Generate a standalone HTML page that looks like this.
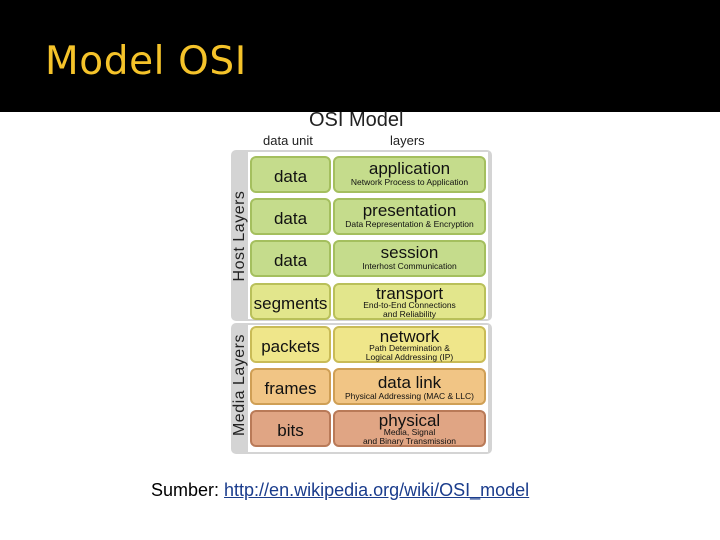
<!DOCTYPE html>
<html><head><style>
body{margin:0;width:720px;height:540px;background:#fff;position:relative;font-family:"Liberation Sans",sans-serif;overflow:hidden}
.hdr{position:absolute;left:0;top:0;width:720px;height:112px;background:#000}
.t{position:absolute;left:45px;top:39px;color:#f5c32a;font-size:39px;letter-spacing:0.6px;font-family:"DejaVu Sans","Liberation Sans",sans-serif}
.a{position:absolute}
.panel{position:absolute;left:231px;width:261px;background:#d4d4d4;border-radius:5px}
.inner{position:absolute;left:248px;width:240px;background:#fff}
.box{position:absolute;border-radius:6px;box-sizing:border-box;text-align:center;color:#111}
.u{left:250px;width:81px;height:37px;font-size:17px;line-height:37px}
.l{left:333px;width:153px;height:37px;font-size:17px;line-height:17px;padding-top:2px}
.l small{display:block;font-size:8.5px;line-height:10px}
.vl{position:absolute;font-size:16px;transform:rotate(-90deg);transform-origin:center;color:#222;letter-spacing:.5px;white-space:nowrap}
</style></head><body>
<div class="hdr"></div>
<div class="t">Model OSI</div>
<div class="a" style="left:309px;top:109px;font-size:20px;color:#222">OSI Model</div>
<div class="a" style="left:263px;top:133px;font-size:13px;color:#222">data unit</div>
<div class="a" style="left:390px;top:133px;font-size:13px;color:#222">layers</div>
<div class="panel" style="top:150px;height:171px"></div>
<div class="panel" style="top:323px;height:131px"></div>
<div class="inner" style="top:152px;height:167px"></div>
<div class="inner" style="top:325px;height:127px"></div>
<div class="vl" style="left:190px;top:227px;width:100px;text-align:center">Host Layers</div>
<div class="vl" style="left:180px;top:376px;width:120px;text-align:center">Media Layers</div>

<div class="box u" style="top:156px;background:#c5dc8c;border:2px solid #a4bf5e">data</div>
<div class="box l" style="top:156px;background:#c5dc8c;border:2px solid #a4bf5e">application<small>Network Process to Application</small></div>
<div class="box u" style="top:198px;background:#c5dc8c;border:2px solid #a4bf5e">data</div>
<div class="box l" style="top:198px;background:#c5dc8c;border:2px solid #a4bf5e">presentation<small>Data Representation &amp; Encryption</small></div>
<div class="box u" style="top:240px;background:#c5dc8c;border:2px solid #a4bf5e">data</div>
<div class="box l" style="top:240px;background:#c5dc8c;border:2px solid #a4bf5e">session<small>Interhost Communication</small></div>
<div class="box u" style="top:283px;background:#e2e68c;border:2px solid #b9c05a">segments</div>
<div class="box l" style="top:283px;background:#e2e68c;border:2px solid #b9c05a;line-height:15px;padding-top:1px">transport<small style="line-height:9px">End-to-End Connections<br>and Reliability</small></div>
<div class="box u" style="top:326px;background:#efe68a;border:2px solid #c9bb56">packets</div>
<div class="box l" style="top:326px;background:#efe68a;border:2px solid #c9bb56;line-height:15px;padding-top:1px">network<small style="line-height:9px">Path Determination &amp;<br>Logical Addressing (IP)</small></div>
<div class="box u" style="top:368px;background:#f1c585;border:2px solid #cf9f55">frames</div>
<div class="box l" style="top:368px;background:#f1c585;border:2px solid #cf9f55;padding-top:4px">data link<small>Physical Addressing (MAC &amp; LLC)</small></div>
<div class="box u" style="top:410px;background:#e0a584;border:2px solid #b97a58">bits</div>
<div class="box l" style="top:410px;background:#e0a584;border:2px solid #b97a58;line-height:15px;padding-top:1px">physical<small style="line-height:9px">Media, Signal<br>and Binary Transmission</small></div>

<div class="a" style="left:151px;top:480px;font-size:18px;color:#000;white-space:nowrap">Sumber: <span style="color:#1a3c8c;text-decoration:underline">http://en.wikipedia.org/wiki/OSI_model</span></div>
</body></html>
